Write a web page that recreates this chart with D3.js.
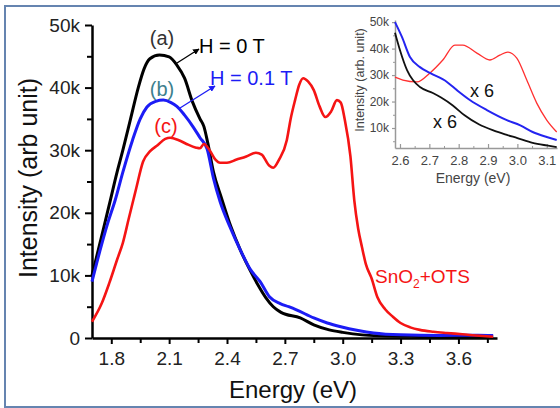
<!DOCTYPE html>
<html>
<head>
<meta charset="utf-8">
<script src="https://cdn.jsdelivr.net/npm/d3@7"></script>
<style>
  body { margin: 0; background: #fff; }
  svg { display: block; font-family: "Liberation Sans", Arial, sans-serif; }
</style>
</head>
<body>
<svg id="chart" width="560" height="408"></svg>
<script>
"use strict";

// main spectra: energy (eV) and intensity (k counts)
const energyA = [1.70,1.72,1.76,1.795,1.83,1.86,1.90,1.94,1.97,2.00,2.05,2.10,2.14,2.18,2.22,2.26,2.28,2.30,2.33,2.37,2.42,2.47,2.52,2.56,2.60,2.64,2.68,2.78,2.85,2.93,3.00,3.10,3.20,3.40,3.60,3.78];
const intensityA = [10,12.5,17.5,22,26.5,30,35,40,43,44.6,45.2,44.9,43.6,41.5,37.8,35,33.8,31.2,26.5,22.5,17.8,14,10.8,8.5,6.5,5,4.1,3.2,2.1,1.3,0.9,0.5,0.35,0.25,0.2,0.2];

const energyB = [1.70,1.74,1.78,1.82,1.86,1.91,1.95,1.985,2.03,2.07,2.11,2.14,2.18,2.225,2.26,2.297,2.33,2.364,2.416,2.47,2.52,2.572,2.62,2.676,2.72,2.76,2.85,2.92,2.99,3.08,3.16,3.30,3.50,3.70,3.78];
const intensityB = [9,13.8,18.2,22,26.5,31.6,35,36.9,37.8,38,37.6,37,35.6,33.7,32,30.2,25.5,21.8,17.7,14,11,9,6.6,5.5,5,4.5,3.2,2.4,1.8,1.2,0.8,0.5,0.4,0.45,0.4];

const energyC = [1.70,1.75,1.79,1.83,1.86,1.89,1.914,1.93,1.965,2.00,2.04,2.08,2.105,2.15,2.19,2.24,2.26,2.28,2.31,2.34,2.364,2.40,2.45,2.50,2.55,2.58,2.62,2.64,2.67,2.71,2.73,2.753,2.775,2.795,2.82,2.85,2.88,2.91,2.94,2.97,2.99,3.01,3.04,3.06,3.08,3.10,3.12,3.15,3.18,3.22,3.26,3.30,3.35,3.40,3.47,3.54,3.62,3.71,3.78];
const intensityC = [2.6,5.5,8.8,12.5,15.2,19,22,24,28.2,29.8,30.8,31.8,32,31.6,31,30.4,30.3,31,30,28.5,28,28,28.5,29,29.6,29.3,27.5,27.2,28.5,31.6,35,38,40.5,41.5,41,39.6,37,35.3,36.2,38,37.6,35,29,22,17.5,14.5,11.8,9.5,6.5,4.6,3.4,2.4,1.7,1.3,1.0,0.8,0.6,0.35,0.2];

// inset spectra
const insetEnergyA = [2.583,2.60,2.624,2.644,2.668,2.712,2.74,2.78,2.82,2.87,2.92,2.964,3.00,3.052,3.10,3.134];
const insetIntensityA = [46,39.4,31.9,28.1,25.5,23.2,21.5,18.5,14.8,11.3,9,7.4,6.2,4.4,3.4,2.8];
const insetEnergyB = [2.583,2.607,2.634,2.668,2.702,2.76,2.794,2.838,2.896,2.964,3.01,3.052,3.10,3.134];
const insetIntensityB = [50,44.3,36.8,33,30.8,27.4,24.3,20.6,16.8,13,11,8.5,6.6,5.5];
const insetEnergyC = [2.583,2.61,2.658,2.702,2.746,2.787,2.814,2.862,2.906,2.94,2.967,2.998,3.032,3.066,3.10,3.134];
const insetIntensityC = [29.2,28.1,27.4,30.8,35.7,41.3,41.3,38.3,35.7,37.5,38.7,36.4,28.1,19.4,13,8.5];

const mainXTicks = [1.8,2.1,2.4,2.7,3.0,3.3,3.6];
const mainYTicks = [0,10,20,30,40,50];
const insetXTicks = [2.6,2.7,2.8,2.9,3.0,3.1];
const insetYTicks = [10,20,30,40,50];

const svg = d3.select("#chart");

// outer frame
svg.append("rect")
  .attr("x", 5).attr("y", 6).attr("width", 600).attr("height", 401)
  .attr("fill", "none").attr("stroke", "#6584b0").attr("stroke-width", 2);

// ---- main plot ----
const x = d3.scaleLinear().domain([1.7, 3.8]).range([92, 497]);
const y = d3.scaleLinear().domain([0, 50]).range([338, 25]);

const fmtMain = d => d === 0 ? "0" : d + "k";

// minor ticks
svg.append("g").attr("transform", "translate(0,338)")
  .call(d3.axisBottom(x).tickValues(d3.range(1.95, 3.8, 0.3)).tickSize(5).tickFormat(""))
  .call(g => g.select(".domain").remove())
  .selectAll("line").attr("stroke-width", 2);
svg.append("g").attr("transform", "translate(92,0)")
  .call(d3.axisLeft(y).tickValues([5,15,25,35,45]).tickSize(5).tickFormat(""))
  .call(g => g.select(".domain").remove())
  .selectAll("line").attr("stroke-width", 2);

const xAxis = svg.append("g").attr("transform", "translate(0,338)")
  .call(d3.axisBottom(x).tickValues(mainXTicks).tickSize(6).tickSizeOuter(0).tickPadding(8).tickFormat(d3.format(".1f")));
const yAxis = svg.append("g").attr("transform", "translate(92,0)")
  .call(d3.axisLeft(y).tickValues(mainYTicks).tickSize(7).tickSizeOuter(0).tickPadding(5).tickFormat(fmtMain));
[xAxis, yAxis].forEach(a => {
  a.select(".domain").attr("stroke", "#000").attr("stroke-width", 2.5);
  a.selectAll("line").attr("stroke-width", 2);
  a.selectAll("text").attr("font-size", 19).attr("fill", "#222")
    .attr("font-family", "'Liberation Sans', Arial, sans-serif");
});

const mainLine = d3.line().x(d => x(d[0])).y(d => y(d[1])).curve(d3.curveMonotoneX);
const series = [
  { e: energyA, v: intensityA, color: "#000000", w: 3 },
  { e: energyB, v: intensityB, color: "#1c1cf5", w: 3 },
  { e: energyC, v: intensityC, color: "#f51414", w: 2.6 }
];
series.forEach(s => {
  svg.append("path")
    .datum(d3.zip(s.e, s.v))
    .attr("fill", "none").attr("stroke", s.color).attr("stroke-width", s.w)
    .attr("stroke-linejoin", "round")
    .attr("d", mainLine);
});

// axis titles
svg.append("text").attr("x", 293).attr("y", 398).attr("text-anchor", "middle")
  .attr("font-size", 24).attr("fill", "#111").text("Energy (eV)");
svg.append("text").attr("transform", "translate(37,178) rotate(-90)").attr("text-anchor", "middle")
  .attr("font-size", 25).attr("fill", "#111").text("Intensity (arb unit)");

// annotations
svg.append("defs").selectAll("marker")
  .data([["arrK", "#000"], ["arrB", "#1c1cf5"]])
  .join("marker")
  .attr("id", d => d[0]).attr("viewBox", "0 0 10 10").attr("refX", 9).attr("refY", 5)
  .attr("markerWidth", 5).attr("markerHeight", 5).attr("orient", "auto")
  .append("path").attr("d", "M0,0L10,5L0,10z").attr("fill", d => d[1]);

svg.append("text").attr("x", 162).attr("y", 45).attr("text-anchor", "middle")
  .attr("font-size", 20).attr("fill", "#333").text("(a)");
svg.append("text").attr("x", 199).attr("y", 53)
  .attr("font-size", 20).attr("fill", "#000").text("H = 0 T");
svg.append("line").attr("x1", 177).attr("y1", 63).attr("x2", 199).attr("y2", 49)
  .attr("stroke", "#000").attr("stroke-width", 1.3).attr("marker-end", "url(#arrK)");

svg.append("text").attr("x", 162).attr("y", 96).attr("text-anchor", "middle")
  .attr("font-size", 20).attr("fill", "#3d7f8e").text("(b)");
svg.append("text").attr("x", 210).attr("y", 85)
  .attr("font-size", 20).attr("fill", "#1c1cf5").text("H = 0.1 T");
svg.append("line").attr("x1", 180).attr("y1", 108).attr("x2", 215).attr("y2", 86)
  .attr("stroke", "#1c1cf5").attr("stroke-width", 1.3).attr("marker-end", "url(#arrB)");

svg.append("text").attr("x", 166).attr("y", 133).attr("text-anchor", "middle")
  .attr("font-size", 20).attr("fill", "#f51414").text("(c)");

const sno = svg.append("text").attr("x", 375).attr("y", 283)
  .attr("font-size", 19).attr("fill", "#f51414");
sno.append("tspan").text("SnO");
sno.append("tspan").attr("font-size", 12).attr("dy", 5).text("2");
sno.append("tspan").attr("dy", -5).text("+OTS");

// ---- inset ----
const ix = d3.scaleLinear().domain([2.583, 3.135]).range([395, 557]);
const iy = d3.scaleLinear().domain([2.45, 50.8]).range([148, 20]);

svg.append("g").attr("transform", "translate(0,148)")
  .call(d3.axisTop(ix).tickValues(d3.range(2.65, 3.12, 0.1)).tickSize(2).tickFormat(""))
  .call(g => g.select(".domain").remove())
  .selectAll("line").attr("stroke", "#999");
svg.append("g").attr("transform", "translate(395,0)")
  .call(d3.axisLeft(iy).tickValues([5,15,25,35,45]).tickSize(2).tickFormat(""))
  .call(g => g.select(".domain").remove())
  .selectAll("line").attr("stroke", "#999");

const ixAxis = svg.append("g").attr("transform", "translate(0,148)")
  .call(d3.axisBottom(ix).tickValues(insetXTicks).tickSizeInner(-4).tickSizeOuter(0).tickPadding(8).tickFormat(d3.format(".1f")));
const iyAxis = svg.append("g").attr("transform", "translate(395,0)")
  .call(d3.axisLeft(iy).tickValues(insetYTicks).tickSize(3).tickSizeOuter(0).tickPadding(3).tickFormat(d => d + "k"));
[ixAxis, iyAxis].forEach(a => {
  a.select(".domain").attr("stroke", "#999").attr("stroke-width", 1.5);
  a.selectAll("line").attr("stroke", "#999").attr("stroke-width", 1.2);
  a.selectAll("text").attr("fill", "#444")
    .attr("font-family", "'Liberation Sans', Arial, sans-serif");
});
ixAxis.selectAll("text").attr("font-size", 13);
iyAxis.selectAll("text").attr("font-size", 12);

const insetLine = d3.line().x(d => ix(d[0])).y(d => iy(d[1])).curve(d3.curveMonotoneX);
const insetSeries = [
  { e: insetEnergyC, v: insetIntensityC, color: "#ff3030", w: 1.3 },
  { e: insetEnergyA, v: insetIntensityA, color: "#111111", w: 1.8 },
  { e: insetEnergyB, v: insetIntensityB, color: "#2424f0", w: 2 }
];
insetSeries.forEach(s => {
  svg.append("path")
    .datum(d3.zip(s.e, s.v))
    .attr("fill", "none").attr("stroke", s.color).attr("stroke-width", s.w)
    .attr("d", insetLine);
});

svg.append("text").attr("x", 473).attr("y", 183).attr("text-anchor", "middle")
  .attr("font-size", 14).attr("fill", "#444").text("Energy (eV)");
svg.append("text").attr("transform", "translate(364,80) rotate(-90)").attr("text-anchor", "middle")
  .attr("font-size", 12.5).attr("fill", "#444").text("Intensity (arb. unit)");

svg.append("text").attr("x", 470).attr("y", 97)
  .attr("font-size", 18).attr("fill", "#111").text("x 6");
svg.append("text").attr("x", 433).attr("y", 128)
  .attr("font-size", 18).attr("fill", "#111").text("x 6");
</script>
</body>
</html>
